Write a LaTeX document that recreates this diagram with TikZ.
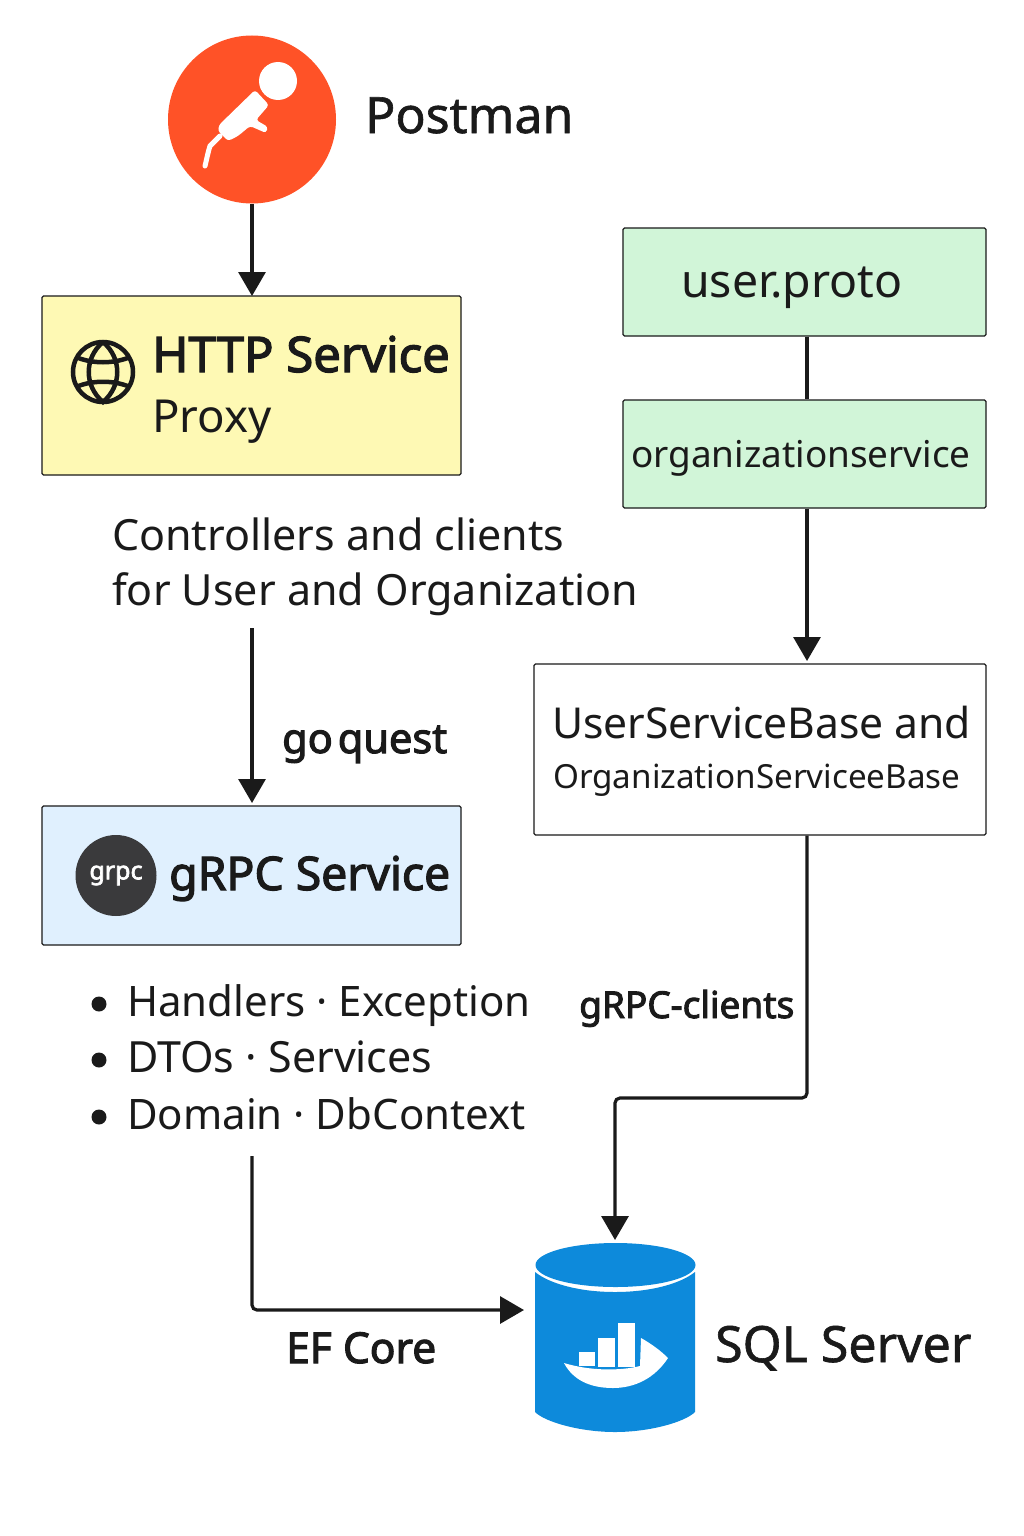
\documentclass[tikz,border=0pt]{standalone}
\usepackage{fontspec}
\setmainfont{Noto Sans}
\newfontfamily\medfont[FakeBold=1.2]{Noto Sans}
\newfontfamily\boldfont[FakeBold=2.6]{Noto Sans}
\usetikzlibrary{arrows.meta,shapes.geometric}
\definecolor{ink}{HTML}{1A1A1A}
\definecolor{pmred}{HTML}{FF5227}
\definecolor{httpfill}{HTML}{FEF9B4}
\definecolor{protofill}{HTML}{D1F5D8}
\definecolor{grpcfill}{HTML}{E0F0FE}
\definecolor{grpcdark}{HTML}{3A3A3C}
\definecolor{dbblue}{HTML}{0D8ADB}
\newcommand{\fs}[1]{\fontsize{#1}{#1}\selectfont}
\tikzset{
  x=1pt,y=-1pt,
  box/.style={draw=ink,line width=1.3pt,rounded corners=1.5pt,inner sep=0pt},
  txt/.style={anchor=base west,inner sep=0pt,text=ink},
  conn/.style={draw=ink,line width=3.2pt,rounded corners=5pt,-{Triangle[length=24pt,width=27pt]}},
  plain/.style={draw=ink,line width=3.2pt},
  globeline/.style={draw=ink,line width=4.5pt},
}
\begin{document}
\begin{tikzpicture}
\useasboundingbox (0,0) rectangle (1024,1536);
\fill[white] (0,0) rectangle (1024,1536);
% Postman
\node[circle,fill=pmred,inner sep=0pt,minimum size=168pt] (postman) at (252,119.5) {};
\fill[white] (278,81) circle (19);
\fill[white,rounded corners=3pt] (255,90) -- (269,105) -- (256,120) -- (268,127) -- (266,133) -- (250,126) -- (238,136) -- (228,141) -- (218,131) -- (219,125) -- cycle;
\draw[white,line width=5pt,line cap=round] (220,136) -- (210,146) .. controls (208,152) and (207,158) .. (205,166);
\node[txt,font=\fs{50}\medfont] (postmanlabel) at (365,133) {Postman};
% HTTP
\node[box,fill=httpfill,minimum width=419pt,minimum height=179pt] (http) at (251.5,385.5) {};
\node[circle,draw=ink,line width=4.5pt,minimum size=60pt,inner sep=0pt] (globe) at (103,372) {};
\draw[globeline] (103,342) .. controls (84,358) and (84,386) .. (103,402) .. controls (122,386) and (122,358) .. (103,342);
\draw[globeline] (76,357) .. controls (92,364) and (114,364) .. (130,357);
\draw[globeline] (76,387) .. controls (92,380) and (114,380) .. (130,387);
\node[txt,font=\fs{49}\boldfont] (httplabel) at (152,372) {HTTP Service};
\node[txt,font=\fs{45.5}] (proxy) at (152,432) {Proxy};
% Controllers
\node[txt,font=\fs{43}] (ctrl1) at (112,550) {Controllers and clients};
\node[txt,font=\fs{43}] (ctrl2) at (112,605) {for User and Organization};
\coordinate (ctrlout) at (252,628);
% gRPC
\node[box,fill=grpcfill,minimum width=419pt,minimum height=139pt] (grpc) at (251.5,875.5) {};
\node[circle,fill=grpcdark,minimum size=81pt,inner sep=0pt,text=white,font=\fs{25}\boldfont] (grpclogo) at (116,875.5) {\raisebox{-3pt}{grpc}};
\node[txt,font=\fs{46.3}\boldfont] (grpclabel) at (169,890) {gRPC Service};
\node[txt,font=\fs{41.5}\boldfont] (goquest) at (282,753) {\spaceskip=5pt go quest};
% list
\fill[ink] (99,1004) circle (7.5);
\fill[ink] (99,1060) circle (7.5);
\fill[ink] (99,1117) circle (7.5);
\node[txt,font=\fs{42}] (item1) at (127,1016) {Handlers · Exception};
\node[txt,font=\fs{43}] (item2) at (127,1072) {DTOs · Services};
\node[txt,font=\fs{42}] (item3) at (127,1129) {Domain · DbContext};
\coordinate (listout) at (252,1156);
% proto
\node[box,fill=protofill,minimum width=363pt,minimum height=108pt] (proto) at (804.5,282) {};
\node[txt,font=\fs{46.4}] (protolabel) at (681,297) {user.proto};
\node[box,fill=protofill,minimum width=363pt,minimum height=108pt] (org) at (804.5,454) {};
\node[txt,font=\fs{36.9}] (orglabel) at (631,467) {organizationservice};
\node[box,fill=white,minimum width=452pt,minimum height=171pt] (base) at (760,749.5) {};
\node[txt,font=\fs{42.6}] (base1) at (552,738) {UserServiceBase and};
\node[txt,font=\fs{33.2}] (base2) at (553,788) {OrganizationServiceeBase};
\node[txt,font=\fs{37}\boldfont] (clients) at (579,1018) {gRPC-clients};
% DB
\fill[dbblue] (535,1272) -- (535,1412) .. controls (545,1422) and (580,1432) .. (615,1432) .. controls (650,1432) and (685,1422) .. (695,1412) -- (695,1272) .. controls (680,1284) and (650,1292) .. (615,1292) .. controls (580,1292) and (550,1284) .. (535,1272) -- cycle;
\node[ellipse,fill=dbblue,minimum width=160pt,minimum height=44pt,inner sep=0pt] (dbtop) at (615.5,1265) {};
\coordinate (dbn) at (615,1240);
\coordinate (dbw) at (524,1310);
\fill[white] (579,1352) rectangle (595,1366);
\fill[white] (598,1338) rectangle (615,1367);
\fill[white] (618,1323) rectangle (635,1367);
\fill[white] (564,1363) .. controls (590,1371) and (620,1371) .. (640,1366) -- (641,1338) .. controls (650,1343) and (660,1350) .. (668,1358) .. controls (655,1378) and (635,1388) .. (613,1388) .. controls (590,1388) and (573,1380) .. (564,1363) -- cycle;
\node[txt,font=\fs{50}\medfont] (sql) at (715,1362) {SQL Server};
\node[txt,font=\fs{42.5}\boldfont] (ef) at (286,1363) {EF Core};
% connectors
\draw[conn] (postman.south) -- (252,296);
\draw[conn] (ctrlout) -- (252,803);
\draw[plain] (proto.south -| 807,0) -- (org.north -| 807,0);
\draw[conn] (org.south -| 807,0) -- (807,661);
\draw[conn] (base.south -| 807,0) -- (807,1098) -- (615,1098) -- (dbn);
\draw[conn] (listout) -- (252,1310) -- (dbw);
\end{tikzpicture}
\end{document}
